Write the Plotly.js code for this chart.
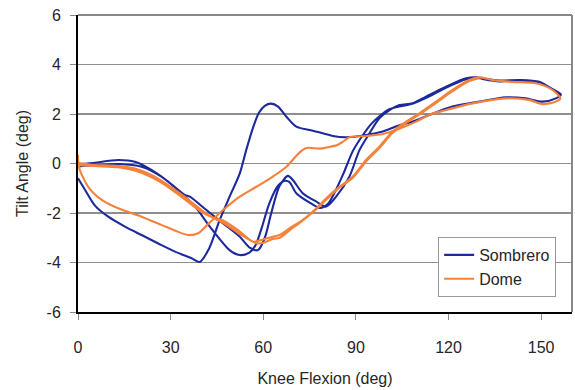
<!DOCTYPE html>
<html>
<head>
<meta charset="utf-8">
<script src="https://cdn.plot.ly/plotly-3.0.1.min.js"></script>
<style>html,body{margin:0;padding:0;background:#fff;}#chart{width:575px;height:390px;}</style>
</head>
<body>
<div id="chart"></div>
<script>
// Sombrero (blue) path: flexion, extension, second flexion
const sombreroX = [0,2.3,5.5,9.8,15.2,20.6,26,31.4,36.8,39.4,42.4,45.9,49.1,52.4,54.5,56.7,58.6,60.5,62.5,64.8,67.5,70.7,75,79.3,82.5,86.9,93.3,98.7,104.1,108.3,113.8,121.3,130,138.6,145,150.4,154.8,156.4,
  153.7,149.4,142.9,136.4,131,128.9,125.7,119.2,112.7,108.4,104.1,100.9,97.6,94.4,91.2,87.9,83.6,80.4,77.2,72.8,69.6,68,65.3,62.6,60.5,58.3,55.6,52.4,47,41.6,36.2,34.6,29.2,23.8,18.4,13,5.5,0.1,
  0.1,5.5,13,20.6,27,33.5,38,42.7,49.1,52.4,55.5,57.5,59.5,62,64.8,67,68.5,70.7,76,78.5,80.8,83,86,89,92,95,98,101,104,108,112.7,119,125.7,129,131,136.4,142.9,149.4,153.7,156.4];
const sombreroY = [-0.6,-1.07,-1.7,-2.15,-2.55,-2.89,-3.23,-3.56,-3.83,-3.98,-3.45,-2.28,-1.34,-0.4,0.55,1.45,2.05,2.33,2.42,2.3,1.89,1.49,1.35,1.22,1.11,1.06,1.15,1.29,1.55,1.69,1.96,2.3,2.5,2.67,2.63,2.5,2.63,2.79,
  3.0,3.3,3.37,3.35,3.44,3.48,3.44,3.1,2.7,2.43,2.36,2.16,1.83,1.22,0.55,-0.53,-1.34,-1.74,-1.54,-1.2,-0.67,-0.5,-0.9,-2.0,-3.0,-3.5,-3.4,-2.96,-2.42,-1.88,-1.34,-1.27,-0.73,-0.26,0.07,0.14,0.03,-0.06,
  -0.1,-0.06,-0.02,-0.13,-0.53,-1.2,-1.75,-2.55,-3.5,-3.7,-3.6,-3.3,-2.6,-1.6,-0.9,-0.7,-0.75,-1.2,-1.65,-1.8,-1.65,-1.2,-0.4,0.5,1.1,1.6,1.95,2.2,2.3,2.4,2.65,3.05,3.4,3.47,3.42,3.32,3.35,3.28,3.0,2.75];

// Dome (orange) path
const domeX = [0,0.3,3.3,7.7,13,20.6,27,31.4,35.7,38.9,42.1,47,52.4,57.8,63.1,67.5,71.8,74,78.2,81,84,85.8,87.9,93.3,98.7,103,109.5,114,119.2,127.8,138.6,146.1,150.4,154.8,156.2,
  153.7,148.3,140.7,134.3,130,126.7,121.3,116,110.6,106.3,101.9,97.6,93.3,89,84.7,80.9,77.2,72.8,68.5,65.3,63.1,59,56.7,52.4,47,44,40,34.6,29.2,23.8,18.4,13,5.5,0.1,
  0.1,5.5,13,18.4,23.8,29.2,34.6,40,47,52.4,57.8,60,63.1,65.3,68.5,72.8,77.2,80.9,84.7,89,93.3,97.6,101.9,106.3,110.6,116,121.3,126.7,130];
const domeY = [0.35,-0.15,-0.94,-1.47,-1.81,-2.15,-2.48,-2.71,-2.89,-2.82,-2.45,-1.88,-1.34,-0.94,-0.53,-0.13,0.45,0.63,0.6,0.66,0.75,0.88,1.06,1.11,1.19,1.35,1.69,1.98,2.16,2.43,2.63,2.57,2.4,2.5,2.63,
  2.97,3.24,3.3,3.37,3.48,3.37,2.97,2.5,2.03,1.69,1.29,0.68,0.14,-0.53,-0.94,-1.34,-1.81,-2.28,-2.62,-2.89,-2.96,-3.1,-3.16,-2.75,-2.3,-2.2,-1.88,-1.35,-0.87,-0.46,-0.2,-0.1,-0.06,0.0,
  -0.05,-0.1,-0.15,-0.28,-0.55,-0.95,-1.45,-1.95,-2.4,-2.85,-3.22,-3.2,-3.05,-3.0,-2.7,-2.3,-1.85,-1.4,-0.98,-0.58,0.08,0.62,1.24,1.64,1.98,2.45,2.92,3.33,3.45];

const xTicks = [0,30,60,90,120,150];
const yTicks = [-6,-4,-2,0,2,4,6];
const seriesNames = ["Sombrero","Dome"];

const font = {family: "Liberation Sans, Arial, sans-serif", size: 16, color: "#262626"};

const traces = [
  {x: sombreroX, y: sombreroY, name: seriesNames[0], mode: "lines",
   line: {color: "#1d2a9c", width: 2.1, shape: "spline", smoothing: 0.8}},
  {x: domeX, y: domeY, name: seriesNames[1], mode: "lines",
   line: {color: "#f4823a", width: 2.1, shape: "spline", smoothing: 0.8}}
];

const layout = {
  width: 575, height: 390,
  margin: {l: 78, r: 3, t: 15, b: 78},
  paper_bgcolor: "#fff", plot_bgcolor: "#fff",
  font: font,
  showlegend: true,
  legend: {x: 0.729, y: 0.2525, xanchor: "left", yanchor: "top",
    bgcolor: "#fff", bordercolor: "#999", borderwidth: 1, tracegroupgap: 0,
    font: {family: font.family, size: 16, color: "#262626"}},
  xaxis: {range: [0, 160], tickvals: xTicks, ticktext: xTicks.map(String),
    showgrid: false, zeroline: false, showline: true, linecolor: "#000", linewidth: 2,
    ticks: "outside", ticklen: 6, tickcolor: "#888", tickwidth: 1, ticklabelstandoff: 14,
    tickfont: font,
    title: {text: "Knee Flexion (deg)", font: font, standoff: 18}},
  yaxis: {range: [-6, 6], tickvals: yTicks, ticktext: yTicks.map(String),
    showgrid: true, gridcolor: "#8f8f8f", gridwidth: 1.5, zeroline: false,
    showline: true, linecolor: "#000", linewidth: 2,
    ticks: "outside", ticklen: 6, tickcolor: "#888", tickwidth: 1, ticklabelstandoff: 6,
    tickfont: font,
    title: {text: "Tilt Angle (deg)", font: font, standoff: 14}},
  shapes: [
    {type: "line", xref: "paper", yref: "paper", x0: 0, x1: 1, y0: 1, y1: 1, line: {color: "#888", width: 2}},
    {type: "line", xref: "paper", yref: "paper", x0: 1, x1: 1, y0: 0, y1: 1, line: {color: "#888", width: 2}}
  ]
};

Plotly.newPlot("chart", traces, layout, {displayModeBar: false, staticPlot: true});
</script>
</body>
</html>
